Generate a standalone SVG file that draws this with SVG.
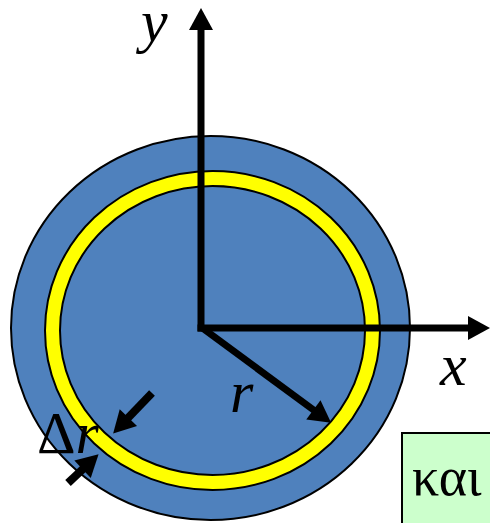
<svg xmlns="http://www.w3.org/2000/svg" width="490" height="523" viewBox="0 0 490 523">
<style>
text{font-family:'Liberation Serif','Times New Roman',serif;font-size:58px;fill:#000}
.it{font-style:italic}
.ax{stroke:#000;stroke-width:7;fill:none}
.sm{stroke:#000;stroke-width:8;fill:none}
</style>
<defs>
<marker id="ah" markerUnits="userSpaceOnUse" markerWidth="24" markerHeight="26" viewBox="0 0 22 26" refX="2" refY="13" orient="auto">
<path d="M0,1 L22,13 L0,25 z" fill="#000"/>
</marker>
</defs>
<rect width="490" height="523" fill="#fff"/>
<g id="disk">
<ellipse cx="210.5" cy="328" rx="199.5" ry="192" fill="#4F81BD" stroke="#000" stroke-width="2"/>
</g>
<g id="ring">
<ellipse cx="212.5" cy="330.5" rx="160" ry="152" fill="none" stroke="#000" stroke-width="17"/>
<ellipse cx="212.5" cy="330.5" rx="160" ry="152" fill="none" stroke="#FFFF00" stroke-width="13"/>
</g>
<g id="connectors">
<line class="ax" x1="197.5" y1="328" x2="470" y2="328" marker-end="url(#ah)"/>
<line class="ax" x1="201" y1="331.5" x2="201" y2="28" marker-end="url(#ah)"/>
<line class="ax" x1="201" y1="327" x2="315" y2="411" marker-end="url(#ah)"/>
<line class="sm" x1="152" y1="393" x2="127" y2="419" marker-end="url(#ah)"/>
<line class="sm" x1="68" y1="483" x2="84" y2="468" marker-end="url(#ah)"/>
</g>
<g id="labels">
<text class="it" x="141" y="41" font-size="60" style="font-size:60px">y</text>
<text class="it" x="440" y="385" style="font-size:60px">x</text>
<text class="it" x="230" y="412" style="font-size:60px">r</text>
<text x="37" y="453" style="font-size:60px">Δ<tspan class="it">r</tspan></text>
</g>
<g id="box">
<rect x="402" y="433" width="92" height="94" fill="#CCFFCC" stroke="#000" stroke-width="2"/>
<text x="412" y="495" style="font-size:54px">και</text>
</g>
</svg>
